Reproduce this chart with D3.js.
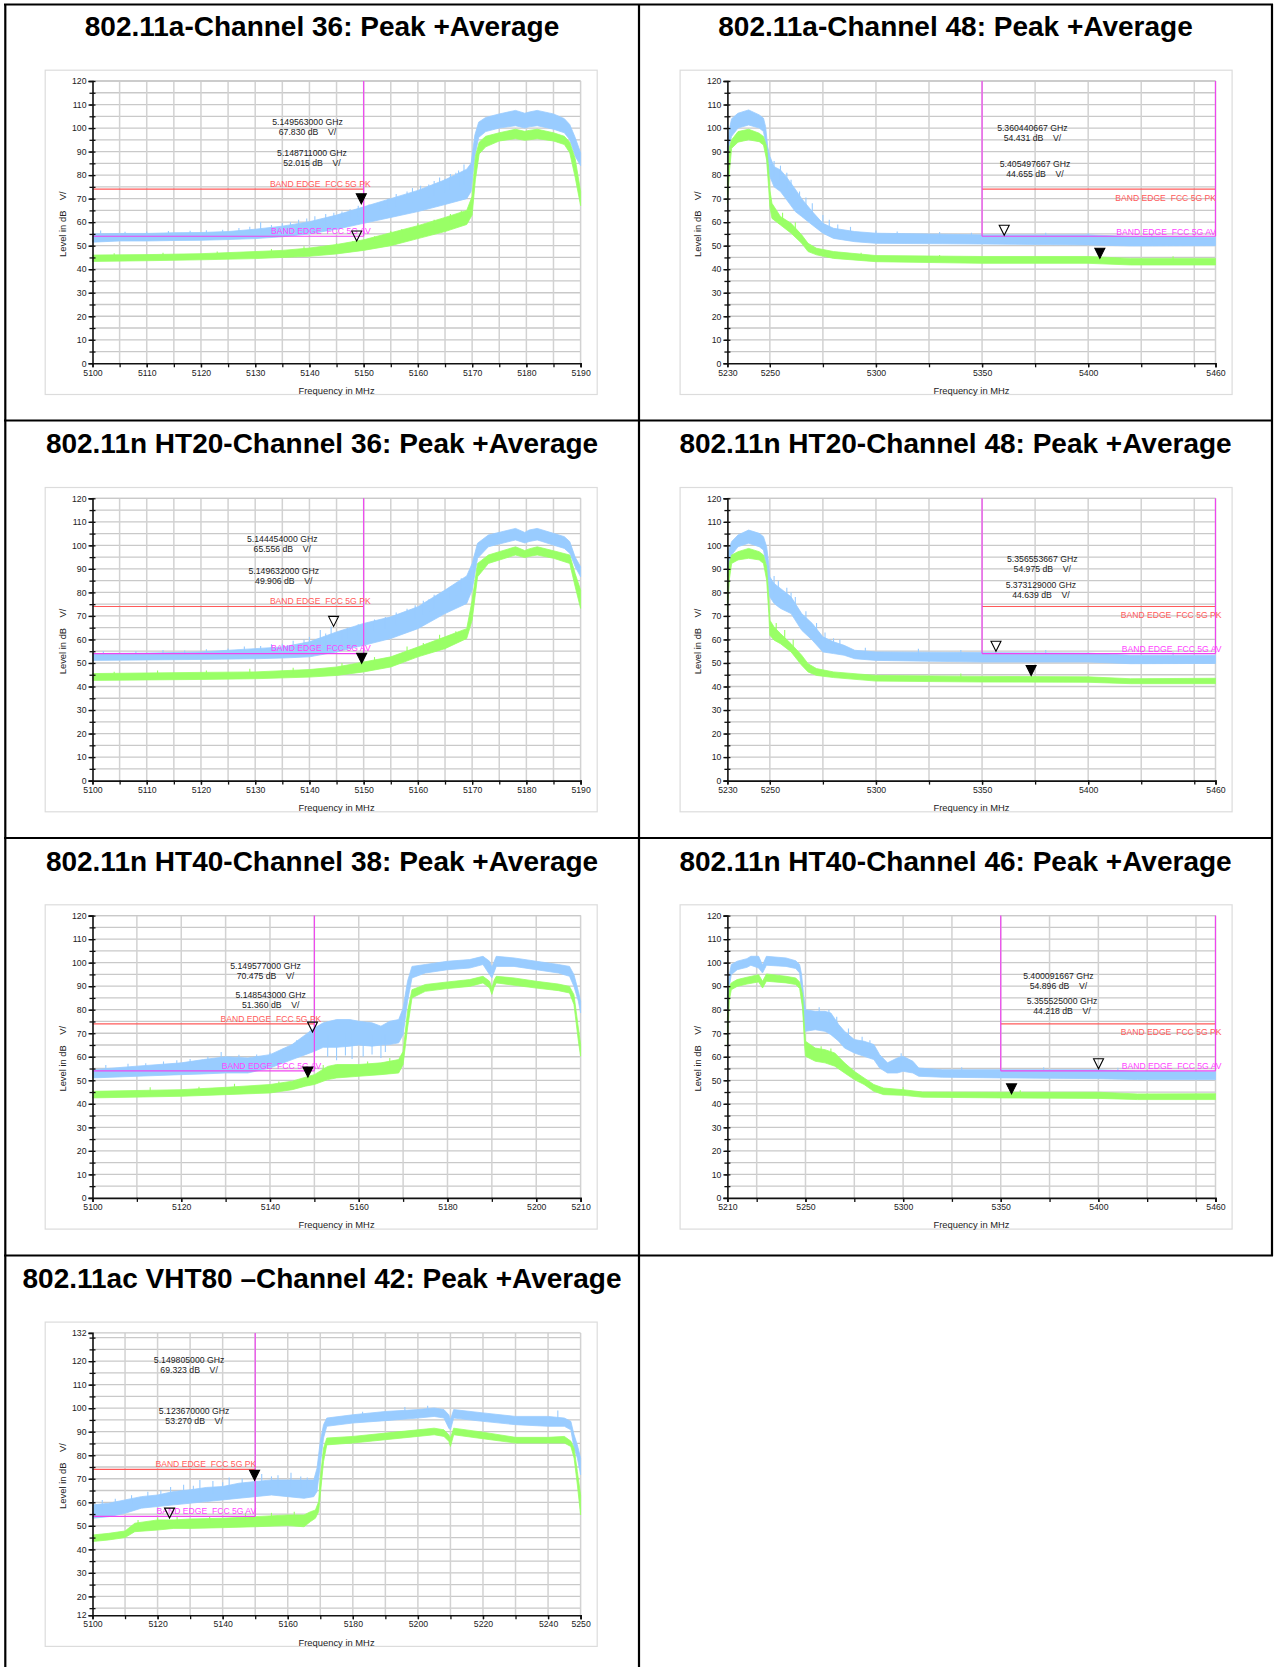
<!DOCTYPE html>
<html><head><meta charset="utf-8">
<script src="https://cdn.jsdelivr.net/npm/d3@7"></script>
<style>
html,body{margin:0;padding:0;background:#fff;}
svg{display:block;}
text{font-family:"Liberation Sans",Arial,sans-serif;white-space:pre;}
</style></head><body>
<svg id="c" width="1274" height="1667"></svg>
<script>
// ---------------- DATA ----------------
const titles = [
  "802.11a-Channel 36: Peak +Average",
  "802.11a-Channel 48: Peak +Average",
  "802.11n HT20-Channel 36: Peak +Average",
  "802.11n HT20-Channel 48: Peak +Average",
  "802.11n HT40-Channel 38: Peak +Average",
  "802.11n HT40-Channel 46: Peak +Average",
  "802.11ac VHT80 \u2013Channel 42: Peak +Average"
];
const xDomains = [[5100,5190],[5230,5460],[5100,5190],[5230,5460],[5100,5210],[5210,5460],[5100,5250]];
const yDomains = [[0,120],[0,120],[0,120],[0,120],[0,120],[0,120],[12,132]];
const xTickLabels = [
  [5100,5110,5120,5130,5140,5150,5160,5170,5180,5190],
  [5230,5250,5300,5350,5400,5460],
  [5100,5110,5120,5130,5140,5150,5160,5170,5180,5190],
  [5230,5250,5300,5350,5400,5460],
  [5100,5120,5140,5160,5180,5200,5210],
  [5210,5250,5300,5350,5400,5460],
  [5100,5120,5140,5160,5180,5200,5220,5240,5250]
];
const xGridTicks = [
  [5105,5110,5115,5120,5125,5130,5135,5140,5145,5150,5155,5160,5165,5170,5175,5180,5185,5190],
  [5250,5275,5300,5325,5350,5375,5400,5425,5450,5460],
  [5105,5110,5115,5120,5125,5130,5135,5140,5145,5150,5155,5160,5165,5170,5175,5180,5185,5190],
  [5250,5275,5300,5325,5350,5375,5400,5425,5450,5460],
  [5110,5120,5130,5140,5150,5160,5170,5180,5190,5200,5210],
  [5225,5250,5275,5300,5325,5350,5375,5400,5425,5450,5460],
  [5110,5120,5130,5140,5150,5160,5170,5180,5190,5200,5210,5220,5230,5240,5250]
];
const yTickLabelsStd = [0,10,20,30,40,50,60,70,80,90,100,110,120];
const yTickLabels7 = [12,20,30,40,50,60,70,80,90,100,110,120,132];
const peakLimit = 74, avgLimit = 54;
const limitSpans = [[5100,5150],[5350,5460],[5100,5150],[5350,5460],[5100,5150],[5350,5460],[5100,5150]];

// trace envelopes: [freq MHz, low dB, high dB]
const peak1 = [[5100,51.5,55],[5105,52,55.2],[5110,52,55.2],[5115,52.2,55.5],[5120,52.3,55.6],[5125,52.6,56],[5130,53,57],[5135,53.8,58.3],[5140,55,60.2],[5145,57,63],[5150,59.5,66.5],[5155,62,70],[5160,64.5,73.5],[5165,67.5,78],[5169,70,82.5],[5169.8,73,85],[5170.5,88,97],[5171.2,96,102.5],[5172.5,98.5,104.5],[5175,100,106],[5178,101,107.5],[5179.7,100,106.3],[5180.5,100.5,106.8],[5182,101,107.5],[5185,99.5,106],[5187,98,104],[5188,95,101.5],[5189,88,96],[5190,84,89.5]];
const avg1 = [[5100,43.3,46],[5110,43.6,46.2],[5120,44,46.6],[5130,44.5,47.5],[5135,45,48],[5140,45.5,49],[5145,46.5,50.5],[5150,48,52.5],[5155,50,55.5],[5160,53,58.5],[5165,56,62],[5169,59,65],[5170,63,71],[5170.6,78,88],[5171.3,89,94],[5172.5,92,96.5],[5175,94.5,98],[5178,95.5,99.5],[5179.7,94.8,98.6],[5180.5,95,99],[5182,95.5,99.5],[5185,94.5,98],[5187,93,96.5],[5188,89.5,94],[5189,79,87],[5190,67,73]];
const peakSpikes1 = [[5101.5,56.5],[5106,55.9],[5110,56],[5114,56.2],[5118,56.3],[5121,56.6],[5124,56.8],[5127,57.5],[5129,58],[5131,60],[5133,58.8],[5135,59.5],[5136.5,60],[5138,61],[5139.5,61.5],[5141,62.5],[5143,63.5],[5144.5,64],[5146,64.5],[5147.5,65.5],[5149,67],[5151,67.5],[5153,68.5],[5154.5,70],[5156,72],[5158,73],[5159,74.5],[5160.5,75.5],[5162,76],[5163,77.5],[5164,79],[5165,78.5],[5166,80.5],[5167,81],[5167.5,82],[5168.5,84.5]];
const avgSpikes1 = [[5104,46.8],[5113,47],[5123,47.5],[5133,48.6],[5139,49.8],[5145,51],[5148,52],[5152,54],[5155,56.2],[5157,57],[5160,59.5],[5163,61],[5166,63.5],[5168,64.8]];

const peak2 = [[5230,85,92],[5231,93,100],[5232,96.5,104],[5235,100,106.3],[5240,101.3,107.7],[5245,100,105.6],[5247,98.5,104.2],[5248,93.5,100.6],[5249,82,92],[5250,79.4,88],[5252,75,83.6],[5255,73,82.2],[5258,69.4,79],[5262,64.5,74],[5265,62.4,70],[5270,58.8,64.5],[5275,55.3,59.5],[5280,53.1,57.4],[5290,51.7,56],[5300,51,55.3],[5350,50.7,54.6],[5400,50.3,54.6],[5420,49.9,53.9],[5460,50,53.6]];
const avg2 = [[5230,68,80],[5231,82,92],[5232,91.4,95],[5235,94,98.5],[5240,95,99.5],[5245,94.2,97.8],[5247,92.8,96.4],[5248.5,86.4,92.1],[5249.5,73.7,82.2],[5250,66.6,73.7],[5251,61.6,68],[5255,58.8,62.4],[5260,55.3,59.5],[5265,51,54.6],[5268,47.5,51],[5272,46.1,48.9],[5280,44.6,47.5],[5300,43.2,45.8],[5350,42.5,45.4],[5400,42.5,45.4],[5420,41.8,44.6],[5460,41.8,44.6]];
const peakSpikes2 = [[5252,86],[5255,84],[5258,81],[5260,78],[5264,73],[5267,70.5],[5270,68],[5275,63],[5278,61],[5282,59],[5288,58],[5300,56.5],[5310,56],[5330,55.8],[5345,55.5],[5380,55.5],[5400,55.3],[5430,54.8]];
const avgSpikes2 = [[5256,64],[5262,60],[5293,47],[5330,46],[5440,45.5]];

const peak3 = [[5100,51.1,54],[5110,51.3,54.2],[5120,51.5,54.7],[5130,51.8,56.1],[5135,52.1,56.8],[5140,52.6,59],[5145,54.7,63.2],[5150,57.5,66.8],[5155,60.4,69.6],[5160,64.6,73.9],[5165,71,81],[5169,75.3,87],[5170,81,92.3],[5171,94.5,100.9],[5173,99.4,104.4],[5178,102.3,107.2],[5179.7,101,105.5],[5180.5,101.6,106.5],[5182,102.3,107.2],[5185,100.1,105.1],[5187,98.7,103.7],[5188,96.6,101.6],[5189,90.9,95],[5190,86.6,90.9]];
const avg3 = [[5100,42.6,45.5],[5120,43,46],[5130,43.3,46.2],[5140,44,47.2],[5145,44.7,48.3],[5150,46.2,50.4],[5155,48.3,52.6],[5160,52.6,56.8],[5165,56.1,61.1],[5169,60.4,64.6],[5170,68.2,76.7],[5171,86.6,92.3],[5173,92.3,95.9],[5178,95.9,99.4],[5179.7,94.8,97.8],[5180.5,95.3,98.5],[5182,95.9,99.4],[5185,94.5,97.7],[5188,92.3,95.9],[5189,82.4,88],[5190,73.2,81]];
const peakSpikes3 = [[5102,55],[5108,55],[5113,55.5],[5117,55.3],[5121,55.8],[5125,56.2],[5128,57],[5131,57.2],[5133,58],[5135,58.2],[5137,59.5],[5139,60],[5140,61],[5142,64],[5143,62.5],[5144,65.5],[5146,64],[5147,65],[5149,66.5],[5152,68.5],[5154,69.5],[5156,71.5],[5158,73],[5159.5,74.5],[5161,76.5],[5162,77],[5163,79],[5164.5,79.5],[5166,82],[5167,83.5],[5168,86]];
const avgSpikes3 = [[5104,46.3],[5112,46.8],[5121,46.8],[5129,47.5],[5137,48],[5146,50],[5152,52.5],[5158,57],[5161,58.5],[5164,62],[5167,63.5]];

const peak4 = [[5230,86.6,95],[5231,92,99],[5232,95.9,101.6],[5235,99.4,104.4],[5240,100.9,106.5],[5245,99.4,105.1],[5247,98,103.7],[5248.5,90.9,99.4],[5249.5,81,92],[5250,78.1,86.6],[5252,75.3,83.8],[5255,73.2,81.7],[5260,71,78.1],[5265,63.9,71],[5270,59.7,66.8],[5275,54.7,61.1],[5280,54,59],[5285,53.3,57.5],[5290,51.8,55.4],[5300,51.1,54.7],[5350,50.4,54.4],[5400,50.4,54.2],[5420,49.7,53.3],[5460,49.8,53.3]];
const avg4 = [[5230,72.4,85.2],[5231,86,93],[5232,92.3,95.9],[5235,93.8,97.3],[5240,94.5,98.7],[5245,93.8,97.3],[5247,92.3,95.9],[5248.5,85.2,90.9],[5249.5,71,78.1],[5250,61.8,68.2],[5252,59.7,65.3],[5255,58.2,62.5],[5260,54.7,58.2],[5265,49,53.3],[5268,46.2,49.7],[5272,44.7,47.6],[5280,43.8,46.2],[5300,42.3,44.7],[5350,41.9,44.3],[5400,41.8,44.1],[5420,41.2,43.3],[5460,41.2,43.5]];
const peakSpikes4 = [[5252,87],[5254,85],[5258,82],[5260,80],[5262,78],[5267,72],[5272,67],[5276,63],[5280,60.5],[5283,60],[5295,56.5],[5320,56],[5340,55.5],[5380,55.5],[5440,54.5]];
const avgSpikes4 = [[5253,67],[5257,64],[5261,60],[5340,45.5]];

const peak5 = [[5100,51,54.5],[5110,51.7,56],[5120,52.4,57.4],[5125,52.7,58.8],[5130,53.1,60],[5135,53.1,59.5],[5140,55.2,60.9],[5145,58.8,65.2],[5148,60.9,69.4],[5150,62.3,72.2],[5152,64,74.4],[5155,64,75.8],[5158,64.5,75.8],[5160,65,75.1],[5163,64.5,74.4],[5165,65,73],[5167,65.2,75.1],[5169,65.9,75.8],[5170,69.4,80.7],[5171,83.6,92.1],[5172,93.5,98.4],[5175,95.6,99.2],[5180,97,100.6],[5185,97.7,101.3],[5188,99.2,102.7],[5189.5,94.9,100.6],[5190,93.5,98],[5191,98.4,102.7],[5195,98.4,102],[5200,97,100.6],[5205,95.6,99.2],[5207.5,94.2,98.4],[5208.5,89.9,94.9],[5209.5,83.6,87.8],[5210,78.6,83.6]];
const avg5 = [[5100,42.5,45.3],[5120,43.2,46],[5130,43.9,47],[5140,44.6,48.2],[5145,46,49.6],[5148,47.5,51.3],[5150,48.2,52.4],[5153,50.3,55.9],[5155,51,56.7],[5160,51.7,56.7],[5165,52.4,57.4],[5169,53.1,58.8],[5170,56.7,62.3],[5171,72.2,79.3],[5172,85,88.5],[5175,87.8,90.7],[5180,89,91.8],[5185,89.9,92.8],[5188,91.4,94.2],[5189.5,89.2,92.1],[5190,86.5,89.2],[5190.5,89.5,92.5],[5191,91.4,94.2],[5195,90.4,93.5],[5200,89.2,92.1],[5205,88.1,90.9],[5207.5,87.1,89.9],[5208.5,82.2,86.4],[5209.5,66.6,72.2],[5210,60.2,65.2]];
const peakSpikes5 = [[5103,56.5],[5108,57],[5112,57.2],[5116,58],[5119,58.5],[5122,59],[5126,60],[5129,62],[5133,60.8],[5137,61],[5140,61.8],[5143,63.5],[5146,67],[5149,71],[5153,60],[5155,58.5],[5157,60.5],[5158.5,59],[5161,60],[5163,61],[5165,59.5],[5166,62]];
const avgSpikes5 = [[5113,47],[5124,47.2],[5132,48.5],[5142,49.5],[5152,56.5],[5162,58],[5167,59.5]];

const peak6 = [[5210,80.7,86.4],[5211,90,95],[5212,94.9,99.2],[5215,97,100.6],[5220,98,101.7],[5222,98.9,102.7],[5226,97.7,102.7],[5228,95.6,99],[5230,98.9,102.7],[5240,98.4,102],[5245,97.5,100.8],[5247,95.6,99.2],[5248,87.8,94.9],[5249,76.5,86.4],[5250,70.8,80],[5255,71.5,79.3],[5260,70.8,79.3],[5263,69.4,78.6],[5267,66.6,73.7],[5270,63.7,70.8],[5275,61.6,67.3],[5280,60.2,66.6],[5285,58.8,65.2],[5288,55.2,60.9],[5292,53.1,57.4],[5297,53.1,59.5],[5300,53.8,60.2],[5305,53.1,58.1],[5308,51.7,55.2],[5320,51.3,54.5],[5350,51,54.5],[5400,50.7,54.5],[5420,50.3,53.8],[5460,50.3,53.6]];
const avg6 = [[5210,65.2,76.5],[5211,84,90],[5212,88.5,91.4],[5215,89.9,92.8],[5220,90.9,93.8],[5226,91.8,94.9],[5228,89.2,92.1],[5230,92.1,95.2],[5240,91.4,94.2],[5245,90.7,93.5],[5247,89,91.8],[5248.5,80.7,86.4],[5249.5,65.2,72.2],[5250,60.2,66.6],[5255,58.1,63.7],[5260,57.4,63],[5265,56,61.6],[5270,53.1,57.4],[5275,50.3,53.8],[5280,48.2,51],[5285,45.3,48.2],[5290,43.9,46.7],[5300,43.6,46],[5310,42.8,45],[5350,42.5,44.9],[5400,42.3,44.9],[5420,41.8,44.2],[5460,41.8,44.3]];
const peakSpikes6 = [[5257,81],[5262,80],[5266,77],[5272,72],[5279,68.5],[5283,67],[5299,61.5],[5330,55.5],[5372,55.5],[5410,55.3]];
const avgSpikes6 = [[5258,64.5],[5263,63.5],[5300,47],[5360,45.8]];

const peak7 = [[5100,53.2,58.9],[5105,53.9,59.6],[5110,55.3,61],[5115,57.5,62.4],[5120,58.2,63.1],[5125,58.9,64.6],[5130,59.6,65.3],[5135,60.3,66.3],[5140,61,66.7],[5145,61.7,68.1],[5150,62.4,68.8],[5155,63.1,69.5],[5160,62.4,69.5],[5165,61.7,69.5],[5168,62.4,69.5],[5169,64.6,74.5],[5170,75.9,85.9],[5171,87.3,93],[5172,92.3,95.8],[5180,93.7,97.2],[5190,94.7,98.6],[5200,95.8,99.4],[5205,96.5,100.1],[5208,95.8,99.4],[5209.5,91.5,97.2],[5210,90.8,95.1],[5211,95.8,99.4],[5220,94.4,98],[5230,93,96.5],[5240,92.3,96.5],[5245,92.3,95.8],[5247,90.8,94.4],[5248,83,88.7],[5249,78.8,84.4],[5250,71.7,78.8]];
const avg7 = [[5100,43.3,46.1],[5105,44,46.8],[5110,45,47.8],[5113,47.5,51.1],[5120,48.2,52.5],[5125,48.9,52.5],[5130,48.9,52.9],[5140,49.2,53.2],[5150,49.6,53.9],[5160,50.1,54.6],[5165,49.6,54.6],[5167,51.8,56],[5168.5,53.2,56.7],[5169.5,56,60.3],[5170,63.1,70.2],[5171,77.3,83],[5172,84.4,87.3],[5180,85.2,88],[5190,86.6,89.4],[5200,88,90.8],[5205,88.7,91.5],[5208,88,90.8],[5209.5,85.9,88.7],[5210,83.7,87.3],[5211,88.7,91.5],[5220,87,89.8],[5230,85.2,87.6],[5240,85.2,87.6],[5245,85.2,88],[5247,83.7,86],[5248,78.8,83],[5249,67.4,73.1],[5250,54.6,63.1]];
const peakSpikes7 = [[5103,61],[5107,61.5],[5112,63],[5117,64.5],[5121,65],[5124,66.5],[5128,67.5],[5131,67],[5133,69.5],[5137,69],[5140,68.5],[5142,70.5],[5146,70],[5152,72],[5155,71],[5157,71.5],[5161,72.5],[5164,71],[5166,70.5],[5183,98.5],[5196,100.5],[5203,101],[5243,99]];
const avgSpikes7 = [[5114,52.5],[5120,53.5],[5126,54],[5136,54],[5147,55.5],[5155,55.5],[5162,56]];

// markers: [freq MHz, level dB, filled]
const markers1 = [[5149.563,67.830,true],[5148.711,52.015,false]];
const markers2 = [[5360.440667,54.431,false],[5405.497667,44.655,true]];
const markers3 = [[5144.454,65.556,false],[5149.632,49.906,true]];
const markers4 = [[5356.553667,54.975,false],[5373.129,44.639,true]];
const markers5 = [[5149.577,70.475,false],[5148.543,51.360,true]];
const markers6 = [[5400.091667,54.896,false],[5355.525,44.218,true]];
const markers7 = [[5149.805,69.323,true],[5123.670,53.270,false]];

const peaks = [peak1,peak2,peak3,peak4,peak5,peak6,peak7];
const avgs = [avg1,avg2,avg3,avg4,avg5,avg6,avg7];
const peakSpikes = [peakSpikes1,peakSpikes2,peakSpikes3,peakSpikes4,peakSpikes5,peakSpikes6,peakSpikes7];
const avgSpikes = [avgSpikes1,avgSpikes2,avgSpikes3,avgSpikes4,avgSpikes5,avgSpikes6,avgSpikes7];
const markers = [markers1,markers2,markers3,markers4,markers5,markers6,markers7];

// ---------------- LAYOUT ----------------
const PW = 488.1, PH = 282.3;
const colX0 = [92.5, 727.4];
const rowTop = r => 81 + r * 417.3;
const annoPos = [[[215,41],[219.5,71.7]],[[305,46.7],[307.6,82.7]],[[189.8,40.7],[191.3,72.4]],[[314.9,60.7],[313.5,86.7]],[[173,50.4],[178.2,79.4]],[[331,60.4],[334.6,85.4]],[[96.6,27],[101.6,78]]];
const labelDx = [7,0.5,7,6,7,6,1];

const COLORS = {peak:"#99ccff", avg:"#99ff66", grid:"#c9c9c9", red:"#ff5a5a", mag:"#f044f0", frame:"#dcdcdc"};

const svg = d3.select("#c");
svg.append("rect").attr("width",1274).attr("height",1667).attr("fill","#fff");

function drawChart(i){
  const col = i % 2, row = Math.floor(i/2);
  const x0 = colX0[col], y0 = rowTop(row);
  const x = d3.scaleLinear().domain(xDomains[i]).range([x0, x0+PW]);
  const y = d3.scaleLinear().domain(yDomains[i]).range([y0+PH, y0]);
  const g = svg.append("g");

  // frame
  g.append("rect").attr("x",x0-47.3).attr("y",y0-10.8).attr("width",552).attr("height",324.3)
    .attr("fill","#fff").attr("stroke",COLORS.frame).attr("stroke-width",1.2);

  // grid
  const yd = yDomains[i];
  const yGrid = d3.range(Math.ceil(yd[0]/5)*5, yd[1]+0.01, 5).filter(v=>v>yd[0]);
  g.append("g").selectAll("line").data(yGrid).join("line")
    .attr("x1",x0).attr("x2",x0+PW).attr("y1",d=>y(d)).attr("y2",d=>y(d))
    .attr("stroke",COLORS.grid).attr("stroke-width",1.3);
  g.append("g").selectAll("line").data(xGridTicks[i]).join("line")
    .attr("x1",d=>x(d)).attr("x2",d=>x(d)).attr("y1",y0).attr("y2",y0+PH)
    .attr("stroke","#d2d2d2").attr("stroke-width",1.5);
  g.append("line").attr("x1",x0).attr("x2",x0+PW).attr("y1",y0).attr("y2",y0).attr("stroke",COLORS.grid).attr("stroke-width",1.3);

  // traces
  const area = d3.area().x(d=>x(d[0])).y0(d=>y(d[1])).y1(d=>y(d[2]));
  const bandAt = (arr,f)=>{
    const b = d3.bisector(d=>d[0]).left(arr,f);
    const a = arr[Math.max(0,b-1)], c = arr[Math.min(arr.length-1,b)];
    if (a===c || c[0]===a[0]) return [a[1],a[2]];
    const t = (f-a[0])/(c[0]-a[0]);
    return [a[1]+(c[1]-a[1])*t, a[2]+(c[2]-a[2])*t];
  };
  function trace(arr, spikes, color){
    g.append("path").attr("d",area(arr)).attr("fill",color).attr("stroke",color).attr("stroke-width",0.8);
    g.append("g").selectAll("line").data(spikes).join("line")
      .attr("x1",d=>x(d[0])).attr("x2",d=>x(d[0]))
      .attr("y1",d=>{const e=bandAt(arr,d[0]); return y(d[1] > e[1] ? (e[0]+e[1])/2 : (e[0]+e[1])/2);})
      .attr("y2",d=>y(d[1]))
      .attr("stroke",color).attr("stroke-width",1.1);
  }
  trace(peaks[i], peakSpikes[i], COLORS.peak);
  trace(avgs[i], avgSpikes[i], COLORS.avg);

  // limit lines
  const span = limitSpans[i];
  const lower = span[0] === xDomains[i][0];
  g.append("line").attr("x1",x(span[0])).attr("x2",x(span[1])).attr("y1",y(peakLimit)).attr("y2",y(peakLimit))
    .attr("stroke",COLORS.red).attr("stroke-width",1.2);
  g.append("line").attr("x1",x(span[0])).attr("x2",x(span[1])).attr("y1",y(avgLimit)).attr("y2",y(avgLimit))
    .attr("stroke",COLORS.mag).attr("stroke-width",1.2);
  const vlines = lower ? [span[1]] : [span[0], span[1]];
  g.append("g").selectAll("line").data(vlines).join("line")
    .attr("x1",d=>x(d)).attr("x2",d=>x(d)).attr("y1",y(yd[1])).attr("y2",y(avgLimit))
    .attr("stroke",COLORS.mag).attr("stroke-width",1.2);
  const lx = x(span[1]) + labelDx[i];
  g.append("text").attr("x",lx).attr("y", lower ? y(peakLimit)-2.2 : y(peakLimit)+11.5)
    .attr("text-anchor","end").attr("font-size",8.6).attr("fill",COLORS.red).text("BAND EDGE  FCC 5G PK");
  g.append("text").attr("x",lx).attr("y", lower ? y(avgLimit)-2.2 : y(avgLimit)-1.5)
    .attr("text-anchor","end").attr("font-size",8.6).attr("fill","#ff44ff").text("BAND EDGE  FCC 5G AV");

  // markers
  markers[i].forEach(m=>{
    const mx = x(m[0]), my = y(m[1]);
    g.append("path").attr("d",`M${mx-5},${my-10}L${mx+5},${my-10}L${mx},${my}Z`)
      .attr("fill", m[2] ? "#000" : "none").attr("stroke","#000").attr("stroke-width",1.1);
  });

  // axes
  const axB = d3.axisBottom(x).tickValues(xTickLabels[i]).tickSize(4).tickFormat(d3.format("d"));
  const gb = g.append("g").attr("transform",`translate(0,${y0+PH})`).call(axB);
  const axBm = d3.axisBottom(x).tickValues(xGridTicks[i]).tickSize(4).tickFormat("");
  const gbm = g.append("g").attr("transform",`translate(0,${y0+PH})`).call(axBm);
  const axL = d3.axisLeft(y).tickValues(i===6 ? yTickLabels7 : yTickLabelsStd).tickSize(4).tickPadding(2);
  const gl = g.append("g").attr("transform",`translate(${x0},0)`).call(axL);
  const axLm = d3.axisLeft(y).tickValues(yGrid).tickSize(6).tickFormat("");
  const glm = g.append("g").attr("transform",`translate(${x0+3},0)`).call(axLm);
  [gb,gbm,gl,glm].forEach(a=>{
    a.selectAll(".domain").attr("stroke","#111").attr("stroke-width",1.6);
    a.selectAll(".tick line").attr("stroke","#111").attr("stroke-width",1.3);
    a.selectAll("text").attr("font-family","Liberation Sans, Arial, sans-serif").attr("font-size",8.7).attr("fill","#222");
  });
  gbm.select(".domain").remove(); glm.select(".domain").remove();
  gb.selectAll("text").attr("dy","0.6em");

  // axis titles
  g.append("text").attr("x",x0+PW/2).attr("y",y0+PH+30.5).attr("text-anchor","middle")
    .attr("font-size",9.4).attr("fill","#222").text("Frequency in MHz");
  g.append("text").attr("transform",`translate(${x0-26.5},${y0+PH/2+2}) rotate(-90)`).attr("text-anchor","middle")
    .attr("font-size",9.4).attr("fill","#222").text("Level in dB    V/");

  // marker annotations
  markers[i].forEach((m,k)=>{
    const p = annoPos[i][k];
    g.append("text").attr("x",x0+p[0]).attr("y",y0+p[1]+3).attr("text-anchor","middle")
      .attr("font-size",8.7).attr("fill","#222").text((m[0]/1000).toFixed(9)+" GHz");
    g.append("text").attr("x",x0+p[0]).attr("y",y0+p[1]+13).attr("text-anchor","middle")
      .attr("font-size",8.7).attr("fill","#222").text(m[1].toFixed(3)+" dB    V/");
  });

  // title
  svg.append("text").attr("x", col===0 ? 322 : 955.5).attr("y", 36 + row*417.4)
    .attr("text-anchor","middle").attr("font-size",28).attr("font-weight","bold").attr("fill","#000")
    .text(titles[i]);
}
for (let i=0;i<titles.length;i++) drawChart(i);

// table borders
const B = svg.append("g").attr("stroke","#000").attr("stroke-width",2.2);
B.append("line").attr("x1",4).attr("x2",1273).attr("y1",4.5).attr("y2",4.5);
B.append("line").attr("x1",5.3).attr("x2",5.3).attr("y1",4).attr("y2",1667);
B.append("line").attr("x1",639).attr("x2",639).attr("y1",4).attr("y2",1667);
B.append("line").attr("x1",1272).attr("x2",1272).attr("y1",4).attr("y2",1256);
[420.5, 838, 1255.5].forEach(yy=>B.append("line").attr("x1",4).attr("x2",1273).attr("y1",yy).attr("y2",yy));
</script>
</body></html>
